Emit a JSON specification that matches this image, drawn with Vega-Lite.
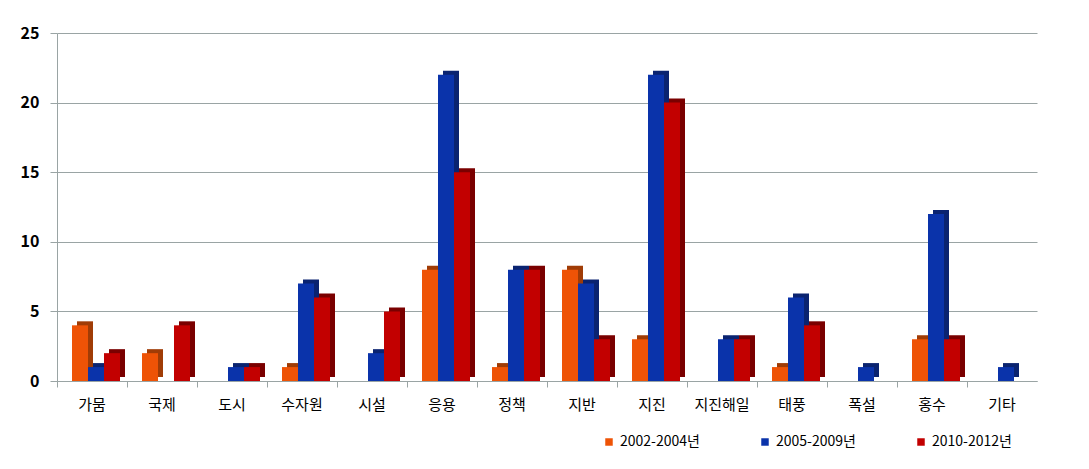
{
  "$schema": "https://vega.github.io/schema/vega-lite/v6.json",
  "width": 980,
  "height": 348,
  "autosize": {"type": "none"},
  "padding": {"left": 57, "top": 33, "right": 52, "bottom": 88},
  "background": "white",
  "config": {
    "view": {"stroke": null},
    "font": "Noto Sans CJK KR"
  },
  "data": {
    "values": [
      {"cat": "가뭄", "period": "2002-2004년", "v": 4},
      {"cat": "가뭄", "period": "2005-2009년", "v": 1},
      {"cat": "가뭄", "period": "2010-2012년", "v": 2},
      {"cat": "국제", "period": "2002-2004년", "v": 2},
      {"cat": "국제", "period": "2005-2009년", "v": 0},
      {"cat": "국제", "period": "2010-2012년", "v": 4},
      {"cat": "도시", "period": "2002-2004년", "v": 0},
      {"cat": "도시", "period": "2005-2009년", "v": 1},
      {"cat": "도시", "period": "2010-2012년", "v": 1},
      {"cat": "수자원", "period": "2002-2004년", "v": 1},
      {"cat": "수자원", "period": "2005-2009년", "v": 7},
      {"cat": "수자원", "period": "2010-2012년", "v": 6},
      {"cat": "시설", "period": "2002-2004년", "v": 0},
      {"cat": "시설", "period": "2005-2009년", "v": 2},
      {"cat": "시설", "period": "2010-2012년", "v": 5},
      {"cat": "응용", "period": "2002-2004년", "v": 8},
      {"cat": "응용", "period": "2005-2009년", "v": 22},
      {"cat": "응용", "period": "2010-2012년", "v": 15},
      {"cat": "정책", "period": "2002-2004년", "v": 1},
      {"cat": "정책", "period": "2005-2009년", "v": 8},
      {"cat": "정책", "period": "2010-2012년", "v": 8},
      {"cat": "지반", "period": "2002-2004년", "v": 8},
      {"cat": "지반", "period": "2005-2009년", "v": 7},
      {"cat": "지반", "period": "2010-2012년", "v": 3},
      {"cat": "지진", "period": "2002-2004년", "v": 3},
      {"cat": "지진", "period": "2005-2009년", "v": 22},
      {"cat": "지진", "period": "2010-2012년", "v": 20},
      {"cat": "지진해일", "period": "2002-2004년", "v": 0},
      {"cat": "지진해일", "period": "2005-2009년", "v": 3},
      {"cat": "지진해일", "period": "2010-2012년", "v": 3},
      {"cat": "태풍", "period": "2002-2004년", "v": 1},
      {"cat": "태풍", "period": "2005-2009년", "v": 6},
      {"cat": "태풍", "period": "2010-2012년", "v": 4},
      {"cat": "폭설", "period": "2002-2004년", "v": 0},
      {"cat": "폭설", "period": "2005-2009년", "v": 1},
      {"cat": "폭설", "period": "2010-2012년", "v": 0},
      {"cat": "홍수", "period": "2002-2004년", "v": 3},
      {"cat": "홍수", "period": "2005-2009년", "v": 12},
      {"cat": "홍수", "period": "2010-2012년", "v": 3},
      {"cat": "기타", "period": "2002-2004년", "v": 0},
      {"cat": "기타", "period": "2005-2009년", "v": 1},
      {"cat": "기타", "period": "2010-2012년", "v": 0}
    ]
  },
  "encoding": {
    "x": {
      "field": "cat", "type": "nominal", "sort": null, "title": null,
      "scale": {"paddingInner": 0, "paddingOuter": 0},
      "axis": {
        "labelAngle": 0, "labelFontSize": 15, "labelColor": "#000000",
        "labelPadding": 10, "tickSize": 6, "tickColor": "#9aa4a4",
        "domainColor": "#9aa4a4", "bandPosition": 0, "grid": false
      }
    },
    "y": {
      "field": "v", "type": "quantitative", "title": null,
      "scale": {"domain": [0, 25], "nice": false},
      "axis": {
        "values": [0, 5, 10, 15, 20, 25],
        "labelFontSize": 16, "labelFontWeight": "bold", "labelColor": "#000000",
        "labelPadding": 11, "tickSize": 7, "tickColor": "#9aa4a4",
        "domainColor": "#9aa4a4", "gridColor": "#9aa4a4", "gridWidth": 1
      }
    }
  },
  "layer": [
    {
      "mark": {"type": "bar", "yOffset": -4},
      "encoding": {
        "xOffset": {"field": "period", "type": "nominal", "sort": null, "scale": {"range": [20, 68], "paddingInner": 0, "paddingOuter": 0}},
        "color": {
          "field": "period", "type": "nominal", "legend": null,
          "scale": {"domain": ["2002-2004년", "2005-2009년", "2010-2012년"], "range": ["#a03c06", "#0a2370", "#7a0000"]}
        }
      }
    },
    {
      "mark": {"type": "bar"},
      "encoding": {
        "xOffset": {"field": "period", "type": "nominal", "sort": null, "scale": {"range": [15, 63], "paddingInner": 0, "paddingOuter": 0}},
        "color": {
          "field": "period", "type": "nominal", "title": null,
          "scale": {"domain": ["2002-2004년", "2005-2009년", "2010-2012년"], "range": ["#ee5306", "#0a33aa", "#c20000"]},
          "legend": {
            "orient": "none", "legendX": 545, "legendY": 402,
            "direction": "horizontal", "columns": 3, "columnPadding": 58,
            "symbolType": "square", "symbolSize": 56, "symbolStrokeWidth": 0,
            "labelFontSize": 14, "labelColor": "#000000", "labelOffset": 4, "padding": 0
          }
        }
      }
    }
  ],
  "resolve": {"scale": {"color": "independent", "xOffset": "independent"}}
}
